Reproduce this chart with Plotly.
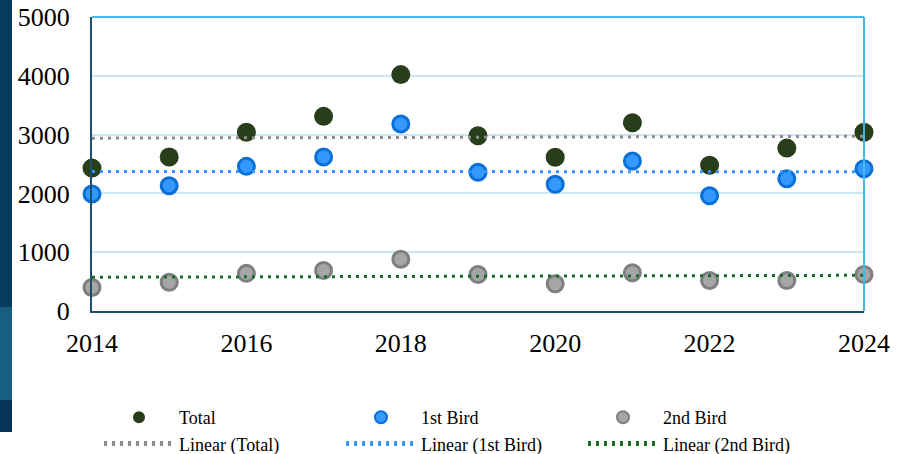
import numpy as np
import plotly.graph_objects as go

years = [2014, 2015, 2016, 2017, 2018, 2019, 2020, 2021, 2022, 2023, 2024]
total = [2430, 2620, 3040, 3310, 4020, 2980, 2615, 3200, 2480, 2770, 3040]
first_bird = [1990, 2130, 2460, 2620, 3180, 2360, 2155, 2550, 1960, 2250, 2420]
second_bird = [400, 490, 640, 690, 880, 622, 463, 651, 520, 520, 620]
x_ticks = [2014, 2016, 2018, 2020, 2022, 2024]
y_ticks = [0, 1000, 2000, 3000, 4000, 5000]

FONT = "Liberation Serif, Times New Roman, serif"


def trend(xs, ys):
    k, b = np.polyfit(xs, ys, 1)
    return [k * x + b for x in xs]


fig = go.Figure()
fig.add_trace(go.Scatter(x=years, y=total, mode="markers", name="Total",
                         marker=dict(size=19, color="#283d19", line=dict(width=0)),
                         cliponaxis=False))
fig.add_trace(go.Scatter(x=years, y=first_bird, mode="markers", name="1st Bird",
                         marker=dict(size=16, color="#3399ff", line=dict(width=3, color="#0a6fd6")),
                         cliponaxis=False))
fig.add_trace(go.Scatter(x=years, y=second_bird, mode="markers", name="2nd Bird",
                         marker=dict(size=16, color="#a6a6a6", line=dict(width=3, color="#7f7f7f")),
                         cliponaxis=False))
fig.add_trace(go.Scatter(x=years, y=trend(years, total), mode="lines", name="Linear (Total)",
                         line=dict(color="#8c8c8c", width=3, dash="3px,5px"), cliponaxis=False))
fig.add_trace(go.Scatter(x=years, y=trend(years, first_bird), mode="lines", name="Linear (1st Bird)",
                         line=dict(color="#3399ff", width=3, dash="3px,5px"), cliponaxis=False))
fig.add_trace(go.Scatter(x=years, y=trend(years, second_bird), mode="lines", name="Linear (2nd Bird)",
                         line=dict(color="#1a6e23", width=3, dash="3px,5px"), cliponaxis=False))

W, H = 905, 454
L, R, T, B = 92, 41, 17, 143
pw, ph = W - L - R, H - T - B


def px_x(p):
    return (p - L) / pw


def px_y(p):
    return (H - B - p) / ph


shapes = [
    # left slide background strip
    dict(type="rect", xref="paper", yref="paper", x0=px_x(0), x1=px_x(12), y0=px_y(0), y1=px_y(307),
         fillcolor="#073c5e", line=dict(width=0), layer="below"),
    dict(type="rect", xref="paper", yref="paper", x0=px_x(0), x1=px_x(12), y0=px_y(307), y1=px_y(400),
         fillcolor="#175f80", line=dict(width=0), layer="below"),
    dict(type="rect", xref="paper", yref="paper", x0=px_x(0), x1=px_x(12), y0=px_y(400), y1=px_y(432),
         fillcolor="#05365a", line=dict(width=0), layer="below"),
    # top and right light blue border
    dict(type="line", xref="paper", yref="paper", x0=0, x1=1, y0=1, y1=1,
         line=dict(color="#41b8ea", width=2)),
    dict(type="line", xref="paper", yref="paper", x0=1, x1=1, y0=0, y1=1,
         line=dict(color="#41b8ea", width=2)),
]

fig.update_layout(
    width=W, height=H,
    margin=dict(l=L, r=R, t=T, b=B, pad=0, autoexpand=False),
    paper_bgcolor="white", plot_bgcolor="white",
    font=dict(family=FONT, color="black"),
    showlegend=True,
    shapes=shapes,
    legend=dict(orientation="h", x=px_x(99), xanchor="left", y=px_y(399), yanchor="top",
                font=dict(family=FONT, size=18, color="black"),
                itemwidth=70, entrywidth=157, entrywidthmode="pixels",
                tracegroupgap=0, bgcolor="rgba(0,0,0,0)", itemsizing="constant"),
    xaxis=dict(range=[2014, 2024], tickvals=x_ticks, ticktext=[str(v) for v in x_ticks],
               showgrid=False, zeroline=False, showline=True, linecolor="#1c4f6e", linewidth=2,
               automargin=False,
               ticks="", tickfont=dict(family=FONT, size=26, color="black"), ticklabelstandoff=8),
    yaxis=dict(range=[0, 5000], tickvals=y_ticks, ticktext=[str(v) for v in y_ticks],
               showgrid=True, gridcolor="#c9e7f6", gridwidth=2, zeroline=False,
               showline=True, linecolor="#1c4f6e", linewidth=2, automargin=False,
               ticks="", tickfont=dict(family=FONT, size=26, color="black"), ticklabelstandoff=15),
)

fig.write_html("out.html", config={"displayModeBar": False},
               post_script="document.body.style.margin='0px';document.body.style.overflow='hidden';")
